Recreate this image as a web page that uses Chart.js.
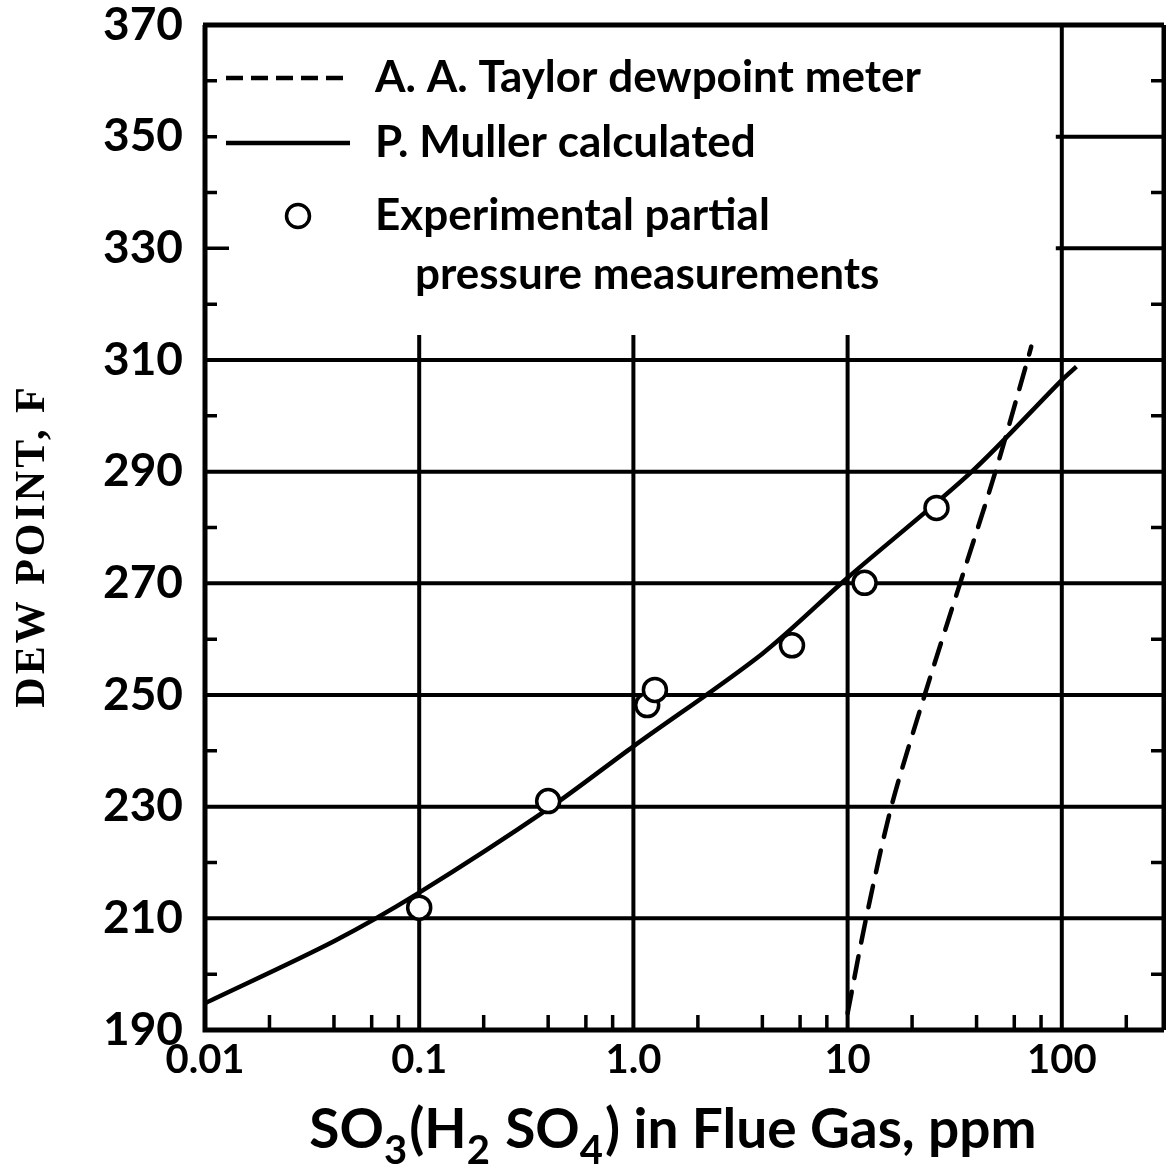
<!DOCTYPE html>
<html>
<head>
<meta charset="utf-8">
<script src="https://cdn.jsdelivr.net/npm/chart.js@4.4.1/dist/chart.umd.min.js"></script>
<style>
    html, body { margin: 0; padding: 0; background: #fff; }
    #wrap { width: 1166px; height: 1172px; position: relative; }
</style>
</head>
<body>
<div id="wrap"><canvas id="dewChart"></canvas></div>
<script>
// SO3 concentration (ppm) vs acid dew point (F)
const mullerPpm = [0.01, 0.04, 0.1, 0.4, 1.0, 4.0, 10, 38, 100, 117];
const mullerDew = [194.8, 205.9, 214.6, 229.6, 240.8, 257.4, 271.0, 290.0, 306.4, 308.8];

const taylorPpm = [10, 12.2, 16.0, 22.9, 33.5, 49, 69.2, 72];
const taylorDew = [193, 210, 230, 250, 270, 290, 310, 312.4];

const expPpm = [0.1, 0.4, 1.16, 1.26, 5.5, 12, 26];
const expDew = [211.9, 231.0, 248.2, 250.9, 258.9, 270.1, 283.5];

const xTickValues = [0.01, 0.1, 1, 10, 100];
const xTickLabels = ['0.01', '0.1', '1.0', '10', '100'];
const xMinorTicks = [0.02, 0.04, 0.06, 0.08, 0.2, 0.4, 0.6, 0.8, 2, 4, 6, 8, 20, 40, 60, 80, 200];

// grid rules: full width below the legend, short ones beside it
const fullRows = [310, 290, 270, 250, 230, 210];
const shortRows = [350, 330];
const innerCols = [0.1, 1, 10];
const leftMinor = [360, 350, 340, 330, 320, 300, 280, 260, 240, 220, 200];
const rightMinor = [360, 340, 320, 300, 280, 260, 240, 220, 200];

const legendItems = [
    { kind: 'dash', text: 'A. A. Taylor dewpoint meter' },
    { kind: 'line', text: 'P. Muller calculated' },
    { kind: 'dot', text: 'Experimental partial' },
    { kind: 'none', text: 'pressure measurements' }
];

const LETTER = 'Lato, "Open Sans", sans-serif';

const toPoints = (xs, ys) => xs.map((v, i) => ({ x: v, y: ys[i] }));

const paperGrid = {
    id: 'paperGrid',
    beforeDatasetsDraw(chart) {
        const { ctx, chartArea: a, scales: { x, y } } = chart;
        ctx.save();
        ctx.strokeStyle = '#000';
        ctx.lineCap = 'butt';

        ctx.lineWidth = 4;
        ctx.beginPath();
        fullRows.forEach(v => {
            const py = y.getPixelForValue(v);
            ctx.moveTo(a.left, py);
            ctx.lineTo(a.right, py);
        });
        const x100 = x.getPixelForValue(100);
        shortRows.forEach(v => {
            const py = y.getPixelForValue(v);
            ctx.moveTo(x100 - 6, py);
            ctx.lineTo(a.right, py);
        });
        const colTop = y.getPixelForValue(314.5);
        innerCols.forEach(v => {
            const px = x.getPixelForValue(v);
            ctx.moveTo(px, colTop);
            ctx.lineTo(px, a.bottom);
        });
        ctx.moveTo(x100, a.top);
        ctx.lineTo(x100, a.bottom);
        ctx.stroke();

        // small tick marks pointing into the plot
        ctx.lineWidth = 3.5;
        ctx.beginPath();
        leftMinor.forEach(v => {
            const py = y.getPixelForValue(v);
            ctx.moveTo(a.left, py);
            ctx.lineTo(a.left + (v === 330 ? 24 : 12), py);
        });
        rightMinor.forEach(v => {
            const py = y.getPixelForValue(v);
            ctx.moveTo(a.right, py);
            ctx.lineTo(a.right - 13, py);
        });
        xMinorTicks.forEach(v => {
            const px = x.getPixelForValue(v);
            ctx.moveTo(px, a.bottom);
            ctx.lineTo(px, a.bottom - 15);
        });
        ctx.stroke();

        // frame
        ctx.lineWidth = 5;
        ctx.beginPath();
        ctx.moveTo(a.left, a.top);
        ctx.lineTo(a.left, a.bottom);
        ctx.lineTo(a.right, a.bottom);
        ctx.moveTo(a.left - 2, a.top);
        ctx.lineTo(a.right, a.top);
        ctx.moveTo(a.right, a.top);
        ctx.lineTo(a.right, a.bottom);
        ctx.stroke();
        ctx.restore();
    },
    afterDatasetsDraw(chart) {
        const { ctx } = chart;
        const ds = chart.data.datasets;
        ctx.save();
        ctx.fillStyle = '#000';
        ctx.strokeStyle = '#000';
        ctx.textBaseline = 'middle';
        ctx.font = 'bold 44px ' + LETTER;

        // legend inside the plot, above the 310 rule
        const rowY = [78, 143, 216, 275];
        const textX = [375, 375, 375, 415];
        legendItems.forEach((item, i) => {
            const ry = rowY[i];
            if (item.kind === 'dash' || item.kind === 'line') {
                const src = item.kind === 'dash' ? ds[0] : ds[1];
                ctx.lineWidth = src.borderWidth;
                ctx.lineCap = 'butt';
                ctx.setLineDash(item.kind === 'dash' ? [17, 8] : []);
                ctx.beginPath();
                ctx.moveTo(226, ry);
                ctx.lineTo(350, ry);
                ctx.stroke();
                ctx.setLineDash([]);
            } else if (item.kind === 'dot') {
                ctx.lineWidth = ds[2].pointBorderWidth;
                ctx.fillStyle = '#fff';
                ctx.beginPath();
                ctx.arc(298, ry, ds[2].pointRadius, 0, Math.PI * 2);
                ctx.fill();
                ctx.stroke();
                ctx.fillStyle = '#000';
            }
            ctx.fillText(item.text, textX[i], ry);
        });

        // axis titles
        ctx.font = 'bold 42px "Liberation Serif", "DejaVu Serif", serif';
        ctx.letterSpacing = '3px';
        ctx.textAlign = 'center';
        ctx.translate(33, 546);
        ctx.rotate(-Math.PI / 2);
        ctx.fillText('DEW POINT, F', 0, 0);
        ctx.setTransform(1, 0, 0, 1, 0, 0);
        ctx.letterSpacing = '0px';

        const parts = [
            ['SO', false], ['3', true], ['(H', false], ['2', true],
            [' SO', false], ['4', true], [') in Flue Gas, ppm', false]
        ];
        const mainFont = 'bold 55px ' + LETTER;
        const subFont = 'bold 40px ' + LETTER;
        ctx.textAlign = 'left';
        ctx.textBaseline = 'alphabetic';
        let total = 0;
        parts.forEach(([t, sub]) => {
            ctx.font = sub ? subFont : mainFont;
            total += ctx.measureText(t).width + (sub ? 2 : 0);
        });
        let cx = 673 - total / 2;
        parts.forEach(([t, sub]) => {
            ctx.font = sub ? subFont : mainFont;
            ctx.fillText(t, cx, sub ? 1164 : 1148);
            cx += ctx.measureText(t).width + (sub ? 2 : 0);
        });
        ctx.restore();
    }
};

const ctx = document.getElementById('dewChart').getContext('2d');
new Chart(ctx, {
    type: 'line',
    data: {
        datasets: [
            {
                label: 'A. A. Taylor dewpoint meter',
                data: toPoints(taylorPpm, taylorDew),
                borderColor: '#000',
                borderWidth: 4.5,
                borderDash: [22, 14],
                borderCapStyle: 'round',
                pointRadius: 0,
                tension: 0.3,
                order: 2
            },
            {
                label: 'P. Muller calculated',
                data: toPoints(mullerPpm, mullerDew),
                borderColor: '#000',
                borderWidth: 4.5,
                pointRadius: 0,
                tension: 0.3,
                order: 1
            },
            {
                label: 'Experimental partial pressure measurements',
                data: toPoints(expPpm, expDew),
                showLine: false,
                borderColor: '#000',
                borderWidth: 3.5,
                pointRadius: 11.5,
                pointBorderWidth: 3.5,
                pointBackgroundColor: '#fff',
                pointBorderColor: '#000',
                order: 0
            }
        ]
    },
    options: {
        responsive: true,
        maintainAspectRatio: false,
        animation: false,
        layout: { autoPadding: false, padding: { top: 25, right: 2, left: 0, bottom: 0 } },
        plugins: {
            legend: { display: false },
            tooltip: { enabled: false }
        },
        scales: {
            x: {
                type: 'logarithmic',
                min: 0.01,
                max: 300,
                grid: { display: false, drawTicks: false },
                border: { display: false },
                afterBuildTicks(scale) {
                    scale.ticks = xTickValues.map(v => ({ value: v }));
                },
                afterFit(scale) {
                    scale.height = 142;
                    scale.paddingLeft = 0;
                    scale.paddingRight = 0;
                },
                ticks: {
                    autoSkip: false,
                    maxRotation: 0,
                    padding: 6,
                    color: '#000',
                    font: { family: LETTER, size: 40, weight: 'bold' },
                    callback: (value) => {
                        const i = xTickValues.indexOf(value);
                        return i >= 0 ? xTickLabels[i] : '';
                    }
                }
            },
            y: {
                min: 190,
                max: 370,
                grid: { display: false, drawTicks: false },
                border: { display: false },
                afterFit(scale) {
                    scale.width = 205;
                    scale.paddingTop = 0;
                    scale.paddingBottom = 0;
                },
                ticks: {
                    stepSize: 20,
                    padding: 22,
                    color: '#000',
                    font: { family: LETTER, size: 46, weight: 'bold' }
                }
            }
        }
    },
    plugins: [paperGrid]
});
</script>
</body>
</html>
